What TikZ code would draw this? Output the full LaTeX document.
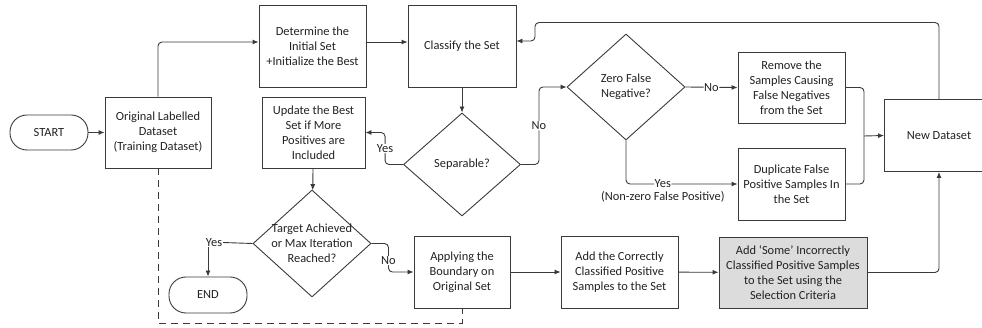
\documentclass[tikz,border=0pt]{standalone}
\usepackage{fontspec}
\setmainfont{Carlito}
\usetikzlibrary{shapes.geometric,arrows.meta}
\definecolor{ink}{HTML}{222222}
\definecolor{edge}{HTML}{3A3A3A}
\definecolor{shade}{HTML}{DCDCDC}
\begin{document}
\begin{tikzpicture}[x=1pt,y=-1pt,
  every node/.style={font=\fontsize{12.4}{15}\selectfont, text=ink},
  box/.style={draw=edge, line width=0.9pt, align=center, inner sep=1pt},
  pill/.style={draw=edge, line width=0.9pt, rounded corners=17pt},
  dia/.style={draw=edge, line width=0.9pt, diamond, inner sep=0pt},
  flow/.style={draw=edge, line width=0.9pt, rounded corners=4pt, -{Latex[length=6pt,width=5pt]}},
  link/.style={draw=edge, line width=0.9pt, rounded corners=4pt},
  tag/.style={fill=white, inner sep=0.5pt}]
\useasboundingbox (0,0) rectangle (982,328);

% terminals
\node[pill, minimum width=78, minimum height=35] (start) at (49,132.5) {START};
\node[pill, minimum width=78, minimum height=36] (end) at (208,295) {END};

% process boxes
\node[box, minimum width=106, minimum height=71] (orig) at (158,132.5) {Original Labelled\\Dataset\\(Training Dataset)};
\node[box, minimum width=107, minimum height=82] (det) at (312.5,46) {Determine the\\Initial Set\\+Initialize the Best};
\node[box, minimum width=108, minimum height=82] (cls) at (462,46) {Classify the Set};
\node[box, minimum width=103, minimum height=71] (upd) at (313.5,132.5) {Update the Best\\Set if More\\Positives are\\Included};
\node[box, minimum width=107, minimum height=71] (rem) at (791.5,87.5) {Remove the\\Samples Causing\\False Negatives\\from the Set};
\node[box, minimum width=107, minimum height=72] (dup) at (791.5,184) {Duplicate False\\Positive Samples In\\the Set};
\node[box, minimum width=109, minimum height=72] (new) at (939,135.5) {New Dataset};
\node[box, minimum width=96, minimum height=72] (app) at (462,272) {Applying the\\Boundary on\\Original Set};
\node[box, minimum width=117, minimum height=72] (addc) at (619.5,272) {Add the Correctly\\Classified Positive\\Samples to the Set};
\node[box, fill=shade, minimum width=148, minimum height=71] (adds) at (793,272.5) {Add ‘Some’ Incorrectly\\Classified Positive Samples\\to the Set using the\\Selection Criteria};

% decisions
\node[dia, minimum width=117, minimum height=103,
  label={[align=center]center:Separable?}] (sep) at (462,164.5) {};
\node[dia, minimum width=118, minimum height=106,
  label={[align=center]center:Zero False\\Negative?}] (zfn) at (626,87) {};
\node[dia, minimum width=118, minimum height=107,
  label={[align=center]center:Target Achieved\\or Max Iteration\\Reached?}] (tgt) at (312,243.5) {};

% main flow
\draw[flow] (start) -- (orig);
\draw[flow] (orig.north) |- ([yshift=4pt]det.west);
\draw[flow] ([yshift=4pt]det.east) -- ([yshift=4pt]cls.west);
\draw[flow] (cls) -- (sep);
\draw[flow] (sep.west) -- ++(-18,0) |- (upd.east) node[pos=0.25, tag] (yes1) {Yes};
\draw[flow] (sep.east) -- ++(18,0) |- (zfn.west) node[pos=0.25, tag] (no1) {No};
\draw[flow] (zfn.east) -- (rem.west) node[midway, tag] (no2) {No};
\draw[flow] (zfn.south) |- (dup.west) node[pos=0.665, tag] (yes2) {Yes}
  node[pos=0.665, below=7pt, inner sep=0pt] (yes2b) {(Non-zero False Positive)};
\coordinate (join) at (864,136);
\draw[link] (rem.east) -| (join);
\draw[link] (dup.east) -| (join);
\draw[flow] (join) -- (new.west);
\coordinate (loop) at (535,22.5);
\draw[flow] (new.north) |- (loop) |- ([yshift=5pt]cls.east);
\draw[flow] (upd) -- (tgt);
\node[tag] (yes3) at (214,242.5) {Yes};
\draw[link] (tgt.west) -- (yes3.east);
\draw[flow] (yes3.south -| end.north) -- (end.north);
\draw[flow] (tgt.east) -- ++(17,0) |- (app.west) node[pos=0.3, tag] (no3) {No};
\draw[flow] (app) -- (addc);
\draw[flow] (addc) -- (adds);
\draw[flow] (adds.east) -| (new.south);

% dashed path from the original dataset to the boundary step
\draw[draw=edge, line width=0.9pt, dash pattern=on 7pt off 5pt]
  (orig.south) -- (158,323) -| (app.south);
\end{tikzpicture}
\end{document}
